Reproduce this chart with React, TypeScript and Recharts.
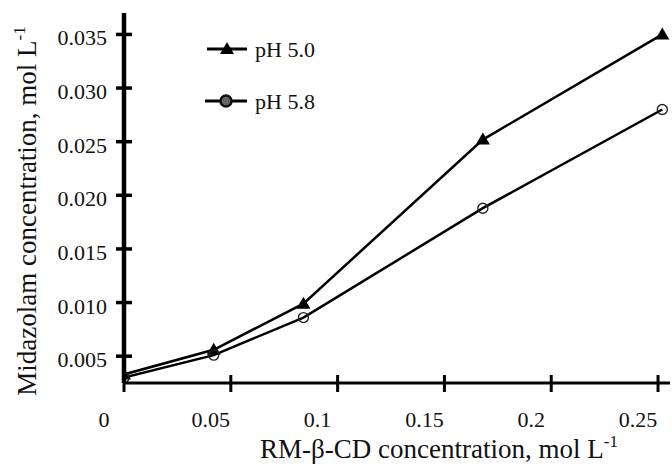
import React from 'react';
import { LineChart, Line, XAxis, YAxis, Legend, Label } from 'recharts';

const xValues = [0, 0.042, 0.084, 0.168, 0.252];
const ph50 = [0.0033, 0.0056, 0.0099, 0.0252, 0.035];
const ph58 = [0.0030, 0.0051, 0.0086, 0.0188, 0.028];
const xTicks = [0, 0.05, 0.1, 0.15, 0.2, 0.25];
const xTickLabels = ['0', '0.05', '0.1', '0.15', '0.2', '0.25'];
const yTicks = [0.005, 0.01, 0.015, 0.02, 0.025, 0.03, 0.035];
const yTickLabels = ['0.005', '0.010', '0.015', '0.020', '0.025', '0.030', '0.035'];
const seriesNames = ['pH 5.0', 'pH 5.8'];

const data = xValues.map((x, i) => ({ x, a: ph50[i], b: ph58[i] }));

const FONT = 'Liberation Serif';
const forceFont = (el: any) => {
  if (el && el.style) el.style.setProperty('font-family', "'Liberation Serif', serif", 'important');
};

const XTick = (props: any) => {
  const { x, y, payload } = props;
  const idx = xTicks.indexOf(payload.value);
  return (
    <g>
      <line x1={x} x2={x} y1={y - 8} y2={y + 9} stroke="#000" strokeWidth={3} />
      <text ref={forceFont} x={x - 20} y={y + 44} textAnchor="middle" fontSize={22} fontFamily={FONT} fill="#111">
        {idx >= 0 ? xTickLabels[idx] : payload.value}
      </text>
    </g>
  );
};

const YTick = (props: any) => {
  const { x, y, payload } = props;
  const idx = yTicks.findIndex((t) => Math.abs(t - payload.value) < 1e-9);
  return (
    <g>
      <line x1={x - 8} x2={x + 8} y1={y} y2={y} stroke="#000" strokeWidth={3.5} />
      <text ref={forceFont} x={x - 17} y={y + 11} textAnchor="end" fontSize={22} fontFamily={FONT} fill="#111">
        {idx >= 0 ? yTickLabels[idx] : payload.value}
      </text>
    </g>
  );
};

const Triangle = (props: any) => {
  const { cx, cy, index } = props;
  if (cx == null || cy == null) return <g key={index} />;
  return <polygon key={index} points={`${cx},${cy - 7} ${cx + 7},${cy + 5} ${cx - 7},${cy + 5}`} fill="#000" />;
};

const Circle = (props: any) => {
  const { cx, cy, index } = props;
  if (cx == null || cy == null) return <g key={index} />;
  return <circle key={index} cx={cx} cy={cy} r={5} fill="none" stroke="#222" strokeWidth={1.4} />;
};

const LegendContent = () => (
  <svg width={140} height={90} style={{ display: 'block' }}>
    <line x1={7} x2={47} y1={19} y2={19} stroke="#000" strokeWidth={3} />
    <polygon points={`27,12 34,24 20,24`} fill="#000" />
    <text ref={forceFont} x={55} y={27} fontSize={22} fontFamily={FONT} fill="#111">{seriesNames[0]}</text>
    <line x1={5} x2={47} y1={71} y2={71} stroke="#000" strokeWidth={3} />
    <circle cx={26} cy={71} r={5.5} fill="#666" stroke="#111" strokeWidth={2.5} />
    <text ref={forceFont} x={55} y={79} fontSize={22} fontFamily={FONT} fill="#111">{seriesNames[1]}</text>
  </svg>
);

export default function App() {
  return (
    <div style={{ position: 'absolute', left: 0, top: 0, background: '#fff', fontFamily: FONT }}>
      <LineChart width={672} height={464} data={data} margin={{ top: 13, right: 2, bottom: 80, left: 123 }}>
        <XAxis
          type="number"
          dataKey="x"
          domain={[0, 0.2556]}
          ticks={xTicks}
          allowDataOverflow
          height={1}
          tickSize={0}
          tickMargin={0}
          tickLine={false}
          tick={<XTick />}
          axisLine={{ stroke: '#000', strokeWidth: 3 }}
          interval={0}
        >
          <Label
            content={() => (
              <text ref={forceFont} x={439} y={458} textAnchor="middle" fontSize={27} fontFamily={FONT} fill="#111">
                RM-β-CD concentration, mol L<tspan dy={-11} fontSize={17}>-1</tspan>
              </text>
            )}
          />
        </XAxis>
        <YAxis
          type="number"
          domain={[0.0025, 0.037]}
          ticks={yTicks}
          allowDataOverflow
          width={1}
          tickSize={0}
          tickMargin={0}
          tickLine={false}
          tick={<YTick />}
          axisLine={{ stroke: '#000', strokeWidth: 4.5 }}
          interval={0}
        >
          <Label
            content={() => (
              <text ref={forceFont} x={36} y={211} transform="rotate(-90, 36, 211)" textAnchor="middle" fontSize={27} fontFamily={FONT} fill="#111">
                Midazolam concentration, mol L<tspan dy={-11} fontSize={17}>-1</tspan>
              </text>
            )}
          />
        </YAxis>
        <Legend
          layout="vertical"
          align="center"
          verticalAlign="middle"
          content={<LegendContent />}
          wrapperStyle={{ left: 200, top: 30, width: 140, height: 90 }}
        />
        <Line dataKey="a" stroke="#000" strokeWidth={2.5} dot={<Triangle />} activeDot={false} isAnimationActive={false} />
        <Line dataKey="b" stroke="#000" strokeWidth={2.5} dot={<Circle />} activeDot={false} isAnimationActive={false} />
      </LineChart>
    </div>
  );
}
